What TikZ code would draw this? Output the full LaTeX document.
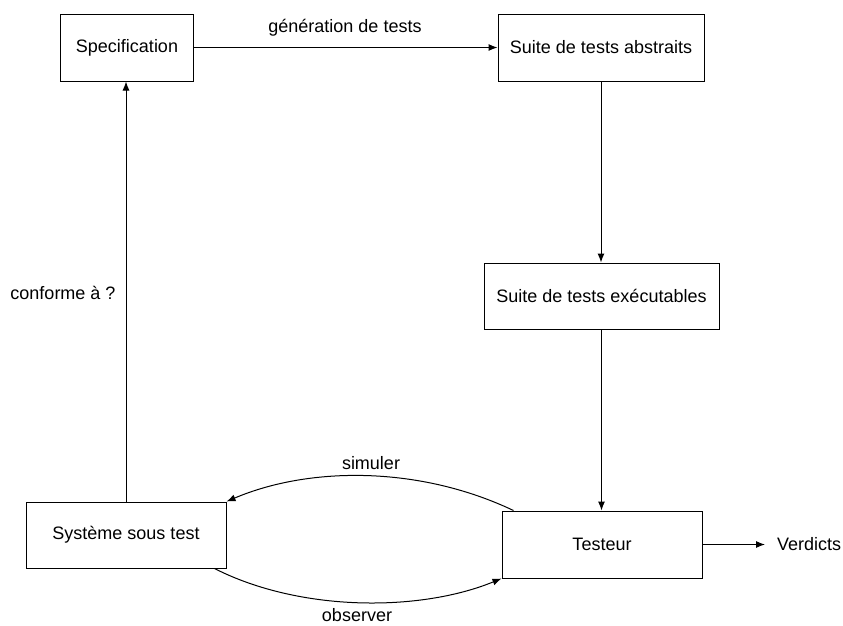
\documentclass[tikz,border=0pt]{standalone}
\usepackage{fontspec}
\setmainfont{Liberation Sans}
\usetikzlibrary{arrows.meta,calc}
\begin{document}
\begin{tikzpicture}[x=1pt,y=-1pt,
  every node/.style={font=\fontsize{18}{21}\selectfont, inner sep=0pt},
  box/.style={draw, line width=1pt, rectangle},
  conn/.style={draw, line width=1pt, -{Latex[length=9pt,width=7pt]}},
  lbl/.style={}]
\useasboundingbox (0,0) rectangle (843,625);
\node[box, minimum width=133pt, minimum height=67pt] (spec) at (127,47.5) {Specification};
\node[box, minimum width=206pt, minimum height=67pt] (abs) at (601,47.5) {Suite de tests abstraits};
\node[box, minimum width=235pt, minimum height=66pt] (exe) at (601.5,296) {Suite de tests exécutables};
\node[box, minimum width=200pt, minimum height=66pt] (sys) at (126,535) {Système sous test};
\node[box, minimum width=200pt, minimum height=67pt] (test) at (602,544.5) {Testeur};
\node[anchor=west] (verd) at (777,544.5) {Verdicts};
\node[lbl] (gen) at (345,28) {génération de tests};
\node[lbl] (conf) at (63,293) {conforme à ?};
\node[lbl] (sim) at (371,463) {simuler};
\node[lbl] (obs) at (357,615) {observer};
\draw[conn] (spec.east) -- (abs.west);
\draw[conn] (abs.south) -- (abs.south |- exe.north);
\draw[conn] (exe.south) -- (exe.south |- test.north);
\draw[conn] (sys.north) -- (sys.north |- spec.south);
\draw[conn] (test.east) -- ($(test.east -| verd.west)+(-12,0)$);
\draw[conn] ($(test.north west)+(12,0)$) .. controls (420,466) and (310,466) .. (sys.north east);
\draw[conn] ($(sys.south east)+(-12,0)$) .. controls (300,612) and (420,612) .. (test.south west);
\end{tikzpicture}
\end{document}
